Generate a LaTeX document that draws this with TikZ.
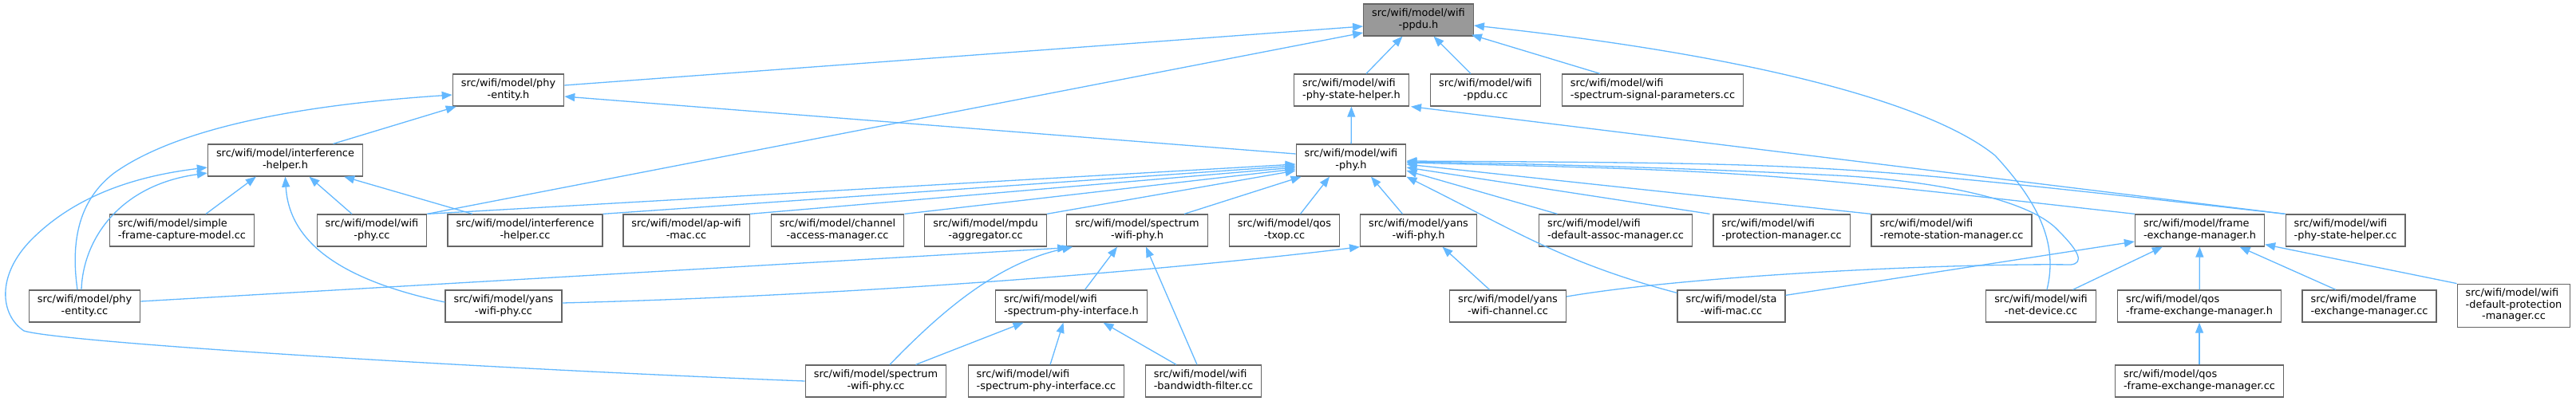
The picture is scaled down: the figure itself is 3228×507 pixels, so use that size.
\documentclass[tikz,border=0pt]{standalone}
\usepackage{fontspec}
\setmainfont{DejaVu Sans}
\usetikzlibrary{arrows.meta}
\definecolor{edgec}{HTML}{63B8FF}
\definecolor{bordc}{HTML}{666666}
\definecolor{rootc}{HTML}{999999}
\newcommand\dxtwo[2]{\begin{tabular}{@{}c@{}}\multicolumn{1}{@{}l@{}}{#1}\\#2\end{tabular}}
\newcommand\dxthree[3]{\begin{tabular}{@{}c@{}}\multicolumn{1}{@{}l@{}}{#1}\\\multicolumn{1}{@{}l@{}}{#2}\\#3\end{tabular}}
\begin{document}
\begin{tikzpicture}[x=1pt,y=-1pt,
  file/.style={draw=bordc,fill=white,line width=1.3pt,inner xsep=10.5pt,inner ysep=5.5pt,
    font=\fontsize{12.9}{14.5}\selectfont},
  root/.style={file,fill=rootc},
  e/.style={draw=edgec,line width=1.3pt,-{Triangle[length=13pt,width=10pt]}}]
\useasboundingbox (0,0) rectangle (3228,507);
% row 0
\node[root] (ppdu) at (1777.5,25) {\dxtwo{src/wifi/model/wifi}{-ppdu.h}};
% row 1
\node[file] (peh) at (637,113) {\dxtwo{src/wifi/model/phy}{-entity.h}};
\node[file] (pshh) at (1693.5,113) {\dxtwo{src/wifi/model/wifi}{-phy-state-helper.h}};
\node[file] (ppducc) at (1861.5,113) {\dxtwo{src/wifi/model/wifi}{-ppdu.cc}};
\node[file] (sspcc) at (2071,113) {\dxtwo{src/wifi/model/wifi}{-spectrum-signal-parameters.cc}};
% row 2
\node[file] (ihh) at (357.5,201) {\dxtwo{src/wifi/model/interference}{-helper.h}};
\node[file] (wph) at (1693,201) {\dxtwo{src/wifi/model/wifi}{-phy.h}};
% row 3
\node[file] (sfccc) at (228,289) {\dxtwo{src/wifi/model/simple}{-frame-capture-model.cc}};
\node[file] (wpcc) at (466,289) {\dxtwo{src/wifi/model/wifi}{-phy.cc}};
\node[file] (ihcc) at (658,289) {\dxtwo{src/wifi/model/interference}{-helper.cc}};
\node[file] (apcc) at (860,289) {\dxtwo{src/wifi/model/ap-wifi}{-mac.cc}};
\node[file] (camcc) at (1049.5,289) {\dxtwo{src/wifi/model/channel}{-access-manager.cc}};
\node[file] (mpducc) at (1235,289) {\dxtwo{src/wifi/model/mpdu}{-aggregator.cc}};
\node[file] (swph) at (1425,289) {\dxtwo{src/wifi/model/spectrum}{-wifi-phy.h}};
\node[file] (qoscc) at (1609.5,289) {\dxtwo{src/wifi/model/qos}{-txop.cc}};
\node[file] (ywph) at (1777.5,289) {\dxtwo{src/wifi/model/yans}{-wifi-phy.h}};
\node[file] (damcc) at (2024.5,289) {\dxtwo{src/wifi/model/wifi}{-default-assoc-manager.cc}};
\node[file] (pmcc) at (2232.5,289) {\dxtwo{src/wifi/model/wifi}{-protection-manager.cc}};
\node[file] (rsmcc) at (2445.5,289) {\dxtwo{src/wifi/model/wifi}{-remote-station-manager.cc}};
\node[file] (femh) at (2756.5,289) {\dxtwo{src/wifi/model/frame}{-exchange-manager.h}};
\node[file] (pshcc) at (2939,289) {\dxtwo{src/wifi/model/wifi}{-phy-state-helper.cc}};
% row 4
\node[file] (pecc) at (106,384) {\dxtwo{src/wifi/model/phy}{-entity.cc}};
\node[file] (ywpcc) at (631,384) {\dxtwo{src/wifi/model/yans}{-wifi-phy.cc}};
\node[file] (wspih) at (1342.5,384) {\dxtwo{src/wifi/model/wifi}{-spectrum-phy-interface.h}};
\node[file] (ywccc) at (1889.5,384) {\dxtwo{src/wifi/model/yans}{-wifi-channel.cc}};
\node[file] (swmcc) at (2169.5,384) {\dxtwo{src/wifi/model/sta}{-wifi-mac.cc}};
\node[file] (wndcc) at (2557.5,384) {\dxtwo{src/wifi/model/wifi}{-net-device.cc}};
\node[file] (qfemh) at (2756,384) {\dxtwo{src/wifi/model/qos}{-frame-exchange-manager.h}};
\node[file] (femcc) at (2969,384) {\dxtwo{src/wifi/model/frame}{-exchange-manager.cc}};
\node[file] (dpmcc) at (3150,383.5) {\dxthree{src/wifi/model/wifi}{-default-protection}{-manager.cc}};
% row 5
\node[file] (swpcc) at (1097.5,478) {\dxtwo{src/wifi/model/spectrum}{-wifi-phy.cc}};
\node[file] (wspicc) at (1311,478) {\dxtwo{src/wifi/model/wifi}{-spectrum-phy-interface.cc}};
\node[file] (bwfcc) at (1508,478) {\dxtwo{src/wifi/model/wifi}{-bandwidth-filter.cc}};
\node[file] (qfemcc) at (2756,478) {\dxtwo{src/wifi/model/qos}{-frame-exchange-manager.cc}};
% edges into ppdu
\draw[e] ([shift={(0,-6)}]peh.east) -- ([shift={(0,8)}]ppdu.west);
\draw[e] (wpcc.north east) -- ([shift={(0,16)}]ppdu.west);
\draw[e] ([shift={(18.5,0)}]pshh.north) -- ([shift={(-20,0)}]ppdu.south);
\draw[e] ([shift={(-18.5,0)}]ppducc.north) -- ([shift={(19,0)}]ppdu.south);
\draw[e] ([shift={(-66,0)}]sspcc.north) -- ([shift={(-3,-2)}]ppdu.south east);
\draw[e] ([shift={(7.5,0)}]wndcc.north) .. controls (2578,310) and (2560,260) .. (2500,195)
  .. controls (2420,130) and (2200,70) .. ([shift={(0,7)}]ppdu.east);
% edges into peh
\draw[e] ([shift={(60,0)}]ihh.north) -- ([shift={(5,0)}]peh.south west);
\draw[e] ([shift={(-9,0)}]pecc.north) .. controls (88,300) and (100,250) .. (143,217)
  .. controls (230,155) and (400,130) .. ([shift={(0,6)}]peh.west);
\draw[e] ([shift={(0,-8)}]wph.west) -- ([shift={(0,8)}]peh.east);
% edges into pshh
\draw[e] (wph) -- (pshh);
\draw[e] (pshcc.north west) -- ([shift={(2,0)}]pshh.south east);
% edges into ihh
\draw[e] ([shift={(30,0)}]sfccc.north) -- ([shift={(61,0)}]ihh.south west);
\draw[e] ([shift={(-25,0)}]wpcc.north) -- ([shift={(30,0)}]ihh.south);
\draw[e] ([shift={(-66,0)}]ihcc.north) -- ([shift={(-24,0)}]ihh.south east);
\draw[e] ([shift={(-4,0)}]pecc.north) .. controls (104,300) and (150,232) .. ([shift={(0,16)}]ihh.west);
\draw[e] (swpcc.west) .. controls (600,462) and (80,430) .. (30,415)
  .. controls (0,395) and (-5,345) .. (40,300)
  .. controls (90,250) and (160,222) .. ([shift={(0,9)}]ihh.west);
\draw[e] ([shift={(0,-5)}]ywpcc.west) .. controls (420,350) and (362,300) .. (ihh.south);
% edges into wph
\draw[e] (wpcc.north east) -- ([shift={(0,5)}]wph.west);
\draw[e] (ihcc.north east) -- ([shift={(0,7)}]wph.west);
\draw[e] (apcc.north east) -- ([shift={(0,9)}]wph.west);
\draw[e] (camcc.north east) -- ([shift={(0,11)}]wph.west);
\draw[e] (mpducc.north east) -- ([shift={(0,13)}]wph.west);
\draw[e] ([shift={(59,0)}]swph.north) -- ([shift={(7,0)}]wph.south west);
\draw[e] ([shift={(20,0)}]qoscc.north) -- ([shift={(-27,0)}]wph.south);
\draw[e] ([shift={(-20,0)}]ywph.north) -- ([shift={(25,0)}]wph.south);
\draw[e] ([shift={(0,4)}]swmcc.north west) .. controls (1960,330) and (1900,290) .. (wph.south east);
\draw[e] ([shift={(-73,0)}]damcc.north) -- ([shift={(0,13)}]wph.east);
\draw[e] ([shift={(-90,0)}]pmcc.north) -- ([shift={(0,9)}]wph.east);
\draw[e] (rsmcc.north west) -- ([shift={(0,5)}]wph.east);
\draw[e] (femh.north west) .. controls (2200,215) .. ([shift={(0,3)}]wph.east);
\draw[e] (pshcc.north west) .. controls (2300,205) .. ([shift={(0,1)}]wph.east);
\draw[e] ([shift={(0,-12)}]ywccc.east) .. controls (2120,345) and (2450,330) .. (2595,332)
  .. controls (2612,330) and (2605,315) .. (2580,290)
  .. controls (2540,245) and (2400,225) .. (2300,220)
  .. controls (2100,210) and (1900,205) .. ([shift={(0,2)}]wph.east);
% edges into swph
\draw[e] ([shift={(0,-6)}]pecc.east) -- ([shift={(2,1)}]swph.south west);
\draw[e] ([shift={(17.5,0)}]swpcc.north) .. controls (1180,390) and (1250,330) .. ([shift={(8,0)}]swph.south west);
\draw[e] ([shift={(17,0)}]wspih.north) -- ([shift={(-25,0)}]swph.south);
\draw[e] ([shift={(-8,0)}]bwfcc.north) -- ([shift={(11,0)}]swph.south);
% edges into ywph
\draw[e] ([shift={(0,-4)}]ywpcc.east) .. controls (1100,370) and (1500,335) .. (ywph.south west);
\draw[e] ([shift={(-23,0)}]ywccc.north) -- ([shift={(30,0)}]ywph.south);
% edges into wspih
\draw[e] ([shift={(50,0)}]swpcc.north) -- ([shift={(-60,0)}]wspih.south);
\draw[e] ([shift={(5,0)}]wspicc.north) -- ([shift={(-10,0)}]wspih.south);
\draw[e] ([shift={(-34,0)}]bwfcc.north) -- ([shift={(40,0)}]wspih.south);
% edges into femh
\draw[e] ([shift={(0,7)}]swmcc.north east) -- ([shift={(0,14)}]femh.west);
\draw[e] ([shift={(40,0)}]wndcc.north) -- ([shift={(35,0)}]femh.south west);
\draw[e] (qfemh) -- (femh);
\draw[e] ([shift={(-42,0)}]femcc.north) -- ([shift={(50,0)}]femh.south);
\draw[e] (dpmcc.north west) -- ([shift={(0,-3)}]femh.south east);
% edges into qfemh
\draw[e] (qfemcc) -- (qfemh);
\end{tikzpicture}
\end{document}
